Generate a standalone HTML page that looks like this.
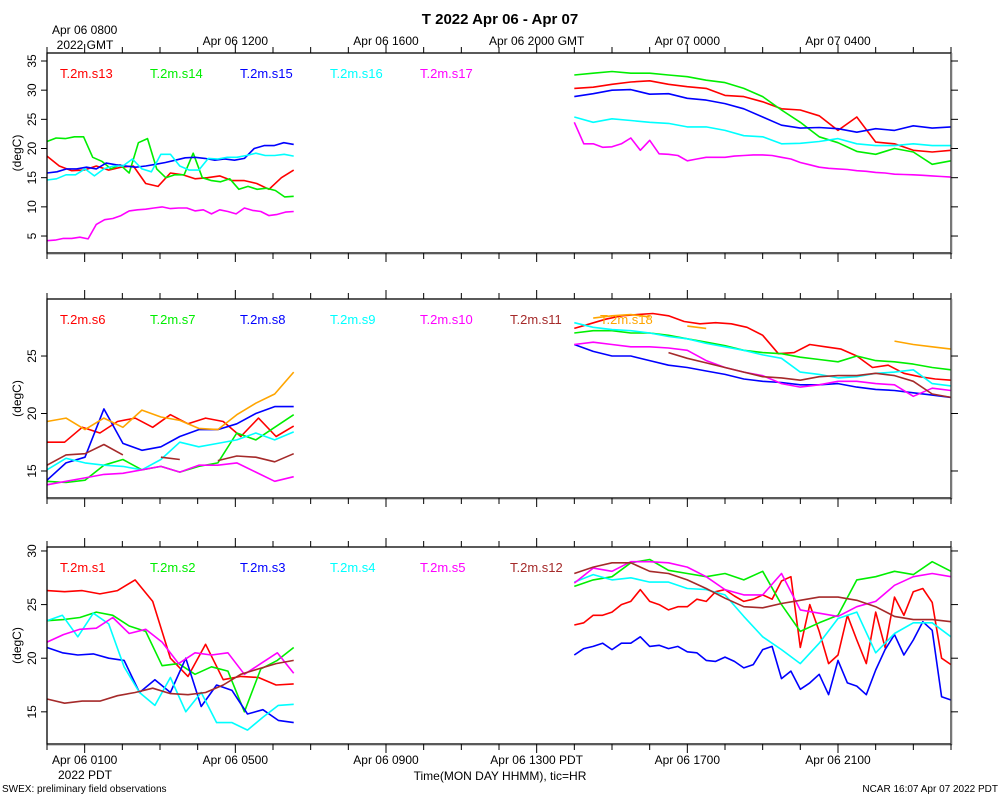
<!DOCTYPE html>
<html><head><meta charset="utf-8"><style>
body{margin:0;background:#fff;}
svg{display:block;font-family:"Liberation Sans",sans-serif;}
</style></head><body>
<svg id="chart" width="1000" height="800" viewBox="0 0 1000 800">
<text x="500" y="24" text-anchor="middle" font-size="15" font-weight="bold">T 2022 Apr 06 - Apr 07</text>
<g id="layer"></g>
<text x="500" y="780" text-anchor="middle" font-size="12">Time(MON DAY HHMM), tic=HR</text>
<text x="2" y="792" font-size="10">SWEX: preliminary field observations</text>
<text x="998" y="792" text-anchor="end" font-size="10">NCAR 16:07 Apr 07 2022 PDT</text>
</svg>
<script>
// time axis (hours since Apr 06 0700 GMT)
const topTickLabels = ["Apr 06 0800","Apr 06 1200","Apr 06 1600","Apr 06 2000 GMT","Apr 07 0000","Apr 07 0400"];
const bottomTickLabels = ["Apr 06 0100","Apr 06 0500","Apr 06 0900","Apr 06 1300 PDT","Apr 06 1700","Apr 06 2100"];
const labelHours = [1,5,9,13,17,21];
const seg1Range = [0,6.55];
const seg2Range = [14,24];

// panel 1
const p1Names = ["T.2m.s13","T.2m.s14","T.2m.s15","T.2m.s16","T.2m.s17"];
const p1Seg1 = [
 [18.7,17,16.2,16.3,17,16.3,16.8,17,14,13.5,15.8,15.5,14.8,15,15.3,14.5,14.5,14,13,15,16.3],
 [21.2,21.8,21.7,22,22,18.5,17.8,16.5,17.2,15.8,21,21.7,16.5,15,15.5,15.5,19.2,15,14.5,14.3,14.8,13,13.5,13,13.2,12.8,11.7,11.8],
 [15.8,16,16.5,16.5,16.8,16.5,17.5,17.2,17,16.8,17,17.3,17.6,18,18.4,18.5,18.3,18,18.2,18,18.3,20,20.5,20.5,21,20.7],
 [14.6,14.8,15.5,15.5,16.5,15.3,16.5,17,17,18.2,16.5,16,19,19,17,16.3,16.3,18.3,18.2,18.5,18.5,18.8,19.2,18.8,18.8,19,18.7],
 [4.2,4.3,4.6,4.6,4.8,4.5,7,7.8,8,8.5,9.3,9.5,9.6,9.8,10,9.7,9.8,9.8,9.3,9.5,8.8,9.5,9.2,8.8,9.8,9.4,9.2,8.5,8.7,9.1,9.2]
];
const p1Seg2 = [
 [30.3,30.5,31,31.4,31.6,31,30.6,30.3,29.1,28.9,28,26.8,26.6,25.6,23.1,25.4,21.1,20.8,19.7,19.4,19.7],
 [32.6,32.9,33.2,32.9,32.9,32.6,32.3,31.7,31.3,30.3,28.9,26.6,24.5,22,21,19.5,19,20,19.4,17.3,17.9],
 [28.9,29.4,30,30.1,29.3,29.4,28.6,28.3,27.7,26.8,25.4,24,23.5,23.6,23.4,22.8,23.4,23.1,23.9,23.5,23.7],
 [25.4,24.5,25.1,24.8,24.5,24.3,23.7,23.7,23.1,22.2,22,20.8,20.9,21.2,21.7,20.8,20.5,20.5,20.8,20.5,20.5],
 [24.5,20.8,20.8,20.2,20.3,20.8,21.8,19.7,21.4,19.1,19,18.8,17.9,18.2,18.5,18.5,18.5,18.7,18.8,18.9,18.9,18.8,18.5,18.2,17.6,17.2,16.8,16.6,16.5,16.4,16.2,16.1,15.9,15.8,15.6,15.55,15.5,15.4,15.3,15.2,15.1]
];
// panel 2
const p2Names = ["T.2m.s6","T.2m.s7","T.2m.s8","T.2m.s9","T.2m.s10","T.2m.s11","T.2m.s18"];
const p2Seg1 = [
 [17.5,17.5,18.8,18.3,19.3,19.6,18.8,19.9,19.1,19.6,19.3,18,19.6,18,18.9],
 [14.1,14,14.2,15.5,16,15.1,15.4,14.9,15.4,15.7,18.3,17.7,18.8,19.9],
 [14.2,15.7,16.2,20.4,17.4,16.8,17.1,18,18.6,18.6,19.1,20,20.6,20.6],
 [15.1,16.1,15.7,15.5,15.4,15.1,16,17.5,17.1,17.4,17.7,18.3,17.7,18.4],
 [13.8,14.1,14.4,14.7,14.8,15.1,15.4,14.9,15.5,15.5,15.7,14.9,14.1,14.5],
 [15.5,16.4,16.5,17.3,16.4,null,16.2,16.0,null,15.9,16.3,16.2,15.8,16.5],
 [19.3,19.6,18.6,19.6,18.8,20.3,19.7,19.4,18.7,18.6,19.9,20.9,21.7,23.6]
];
const p2Seg2 = [
 [27.4,27.8,28.2,28.5,28.6,28.7,28.5,28,27.8,27.9,27.8,27.5,26.8,25.2,25.3,26,25.8,25.6,25,24,24.2,23.5,23.2,23,22.9],
 [27,27.2,27.2,27,27,26.8,26.5,26.2,25.9,25.5,25.3,25.2,24.9,24.7,24.5,25,24.6,24.5,24.3,24,23.8],
 [26,25.4,25,25,24.6,24.2,24,23.7,23.4,23,22.8,22.7,22.5,22.5,22.6,22.3,22.1,22,21.8,21.6,21.4],
 [27.9,27.5,27.3,27.2,27,26.7,26.5,26.1,25.8,25.5,25.1,24.8,23.6,23.4,23.1,23.2,23.5,23.6,23.8,22.6,22.4],
 [26,26.2,26,25.8,25.8,25.7,25.5,24.6,24,23.6,23.3,22.6,22.3,22.5,22.8,22.8,22.6,22.5,21.5,22.2,22],
 [null,null,null,null,null,25.3,24.8,24.4,24,23.6,23.2,23.1,22.9,23.2,23.3,23.3,23.5,23.3,22.8,21.7,21.4],
 [null,28.3,28.5,28.6,28.4,null,27.6,27.4,null,null,null,null,null,null,null,null,null,26.3,26,25.8,25.6]
];
// panel 3
const p3Names = ["T.2m.s1","T.2m.s2","T.2m.s3","T.2m.s4","T.2m.s5","T.2m.s12"];
const p3Seg1 = [
 [26.3,26.2,26.3,26,26.3,27.3,25.3,20,18.3,21.3,18,18.3,18.2,17.5,17.6],
 [23.5,23.6,23.8,24.3,24,23,22.5,19.3,19.5,18.5,19.2,18.8,15,19,19.8,21],
 [21,20.5,20.3,20.4,20,19.8,16.8,18,16.8,20,15.5,17.5,17,14.8,15.2,14.2,14],
 [23.5,24,22,24.2,23.2,19.2,16.8,15.6,18.2,15,16.8,14,14,13.3,14.5,15.6,15.7],
 [21.5,22.2,22.7,22.8,23.8,22.3,22.7,21.5,19.5,20.5,20.3,20.5,18.5,19.5,20.5,18.6],
 [16.2,15.8,16,16,16.5,16.8,17.2,16.7,16.6,16.8,17.5,18.5,19,19.5,19.8]
];
const p3Seg2 = [
 [23.1,23.3,24,24,24.3,25,25.3,26.4,25.3,25,24.5,24.8,24.8,25.5,25.3,26.2,26.4,25.8,25.3,25.5,25.9,25.5,27.2,27.6,21,25,22.5,19.5,20.3,24,21.7,19.5,24.3,21,25.7,24,26.2,26.5,25.2,20,19.4],
 [26.7,27.3,27.6,28.9,29.2,28.2,27.9,27.6,27.9,27.3,28.1,25,22.5,23.3,24,27.3,27.6,28.1,27.8,29,28.1],
 [20.3,20.9,21.1,21.4,20.8,21.4,21.4,22,21.1,21.2,20.9,21.1,20.6,20.5,19.8,19.7,20.1,19.7,19.1,19.4,20.8,21.1,18.1,18.8,17.1,17.7,18.5,16.6,19.8,17.7,17.4,16.6,18.9,20.8,22.2,20.3,21.7,23.4,22.6,16.4,16.1],
 [27.1,27.8,27.3,27.5,27.1,27.1,26.5,26.4,25.9,23.9,22,20.8,19.5,21.4,23.7,24.3,20.5,22.3,23.3,23.3,22],
 [27,28.4,28.1,29,29,28.9,28.5,27.6,26.4,25.9,25.9,27.9,24.5,24.2,23.9,24.8,25.3,26.8,27.6,27.9,27.6],
 [27.9,28.5,28.9,28.9,28.1,27.9,27.3,26.5,25.6,24.8,24.7,25.1,25.4,25.7,25.7,25.4,24.8,23.9,23.6,23.6,23.4]
];

const COLORS1=["#ff0000","#00ee00","#0000ff","#00ffff","#ff00ff"];
const COLORS2=["#ff0000","#00ee00","#0000ff","#00ffff","#ff00ff","#a52a2a","#ffa500"];
const COLORS3=["#ff0000","#00ee00","#0000ff","#00ffff","#ff00ff","#a52a2a"];
const NS="http://www.w3.org/2000/svg";
const layer=document.getElementById('layer');
const X0=47,X1=951;
function xs(h){return X0+(h/24)*(X1-X0);}
function mk(tag,attrs,parent){const e=document.createElementNS(NS,tag);for(const k in attrs)e.setAttribute(k,attrs[k]);(parent||layer).appendChild(e);return e;}

const panels=[
 {id:"panel-1",top:53,bot:253,vTop:36.37,vBot:2.09,ticks:[5,10,15,20,25,30,35],names:p1Names,s1:p1Seg1,s2:p1Seg2,colors:COLORS1},
 {id:"panel-2",top:299,bot:498,vTop:29.96,vBot:12.65,ticks:[15,20,25],names:p2Names,s1:p2Seg1,s2:p2Seg2,colors:COLORS2},
 {id:"panel-3",top:547,bot:744,vTop:30.37,vBot:12.0,ticks:[15,20,25,30],names:p3Names,s1:p3Seg1,s2:p3Seg2,colors:COLORS3}
];

panels.forEach(p=>{
  const g=mk('g',{});
  
  
  const ys=v=>p.top+(p.vTop-v)/(p.vTop-p.vBot)*(p.bot-p.top);
  p.names.forEach((nm,i)=>{
    [[p.s1[i],seg1Range],[p.s2[i],seg2Range]].forEach(([arr,rng],si)=>{
      if(!arr)return;
      const n=arr.length;let d="",pen=false;
      arr.forEach((v,k)=>{
        if(v===null){pen=false;return;}
        const h=rng[0]+(rng[1]-rng[0])*k/(n-1);
        d+=(pen?"L":"M")+xs(h).toFixed(1)+","+ys(v).toFixed(1);pen=true;
      });
      const path=mk('path',{d:d,fill:"none",stroke:p.colors[i],"stroke-width":"1.6","stroke-linejoin":"round"},g);
      
      
    });
    const lt=mk('text',{x:60+i*90,y:p.top+25,fill:p.colors[i],"font-size":"13"},g);
    lt.textContent=nm;
    
    
  });
  const box=mk('rect',{x:X0,y:p.top,width:X1-X0,height:p.bot-p.top,fill:"none",stroke:"#000","stroke-width":"1.3"},g);
  
  
  mk('line',{x1:X1+0.5,y1:p.top,x2:X1+0.5,y2:p.bot+1,stroke:"#777","stroke-width":"1.5"},g);
  mk('line',{x1:X0,y1:p.bot+0.8,x2:X1+1,y2:p.bot+0.8,stroke:"#777","stroke-width":"1.2"},g);
  p.ticks.forEach(v=>{
    const y=ys(v);
    mk('line',{x1:X0-6,y1:y,x2:X0,y2:y,stroke:"#000"},g);
    mk('line',{x1:X1,y1:y,x2:X1+7,y2:y,stroke:"#000"},g);
    const t=mk('text',{x:0,y:0,transform:`translate(36,${y}) rotate(-90)`,"text-anchor":"middle","font-size":"12"},g);
    t.textContent=v;
    
    
  });
  const yt=mk('text',{x:0,y:0,transform:`translate(21,${(p.top+p.bot)/2}) rotate(-90)`,"text-anchor":"middle","font-size":"12"},g);
  yt.textContent="(degC)";
  
  
  for(let h=0;h<=24;h++){
    const major=labelHours.includes(h);const x=xs(h);const L=major?9:6;
    mk('line',{x1:x,y1:p.top-L,x2:x,y2:p.top,stroke:"#000"},g);
    mk('line',{x1:x,y1:p.bot,x2:x,y2:p.bot+L,stroke:"#000"},g);
  }
});
labelHours.forEach((h,i)=>{
  const t=mk('text',{x:xs(h),y:i===0?34:45,"text-anchor":"middle","font-size":"12"});
  t.textContent=topTickLabels[i];
  
  
  const b=mk('text',{x:xs(h),y:764,"text-anchor":"middle","font-size":"12"});
  b.textContent=bottomTickLabels[i];
  
  
});
const g1=mk('text',{x:85,y:49,"text-anchor":"middle","font-size":"12"});
g1.textContent="2022 GMT";


const g2=mk('text',{x:85,y:779,"text-anchor":"middle","font-size":"12"});
g2.textContent="2022 PDT";


</script>
</body></html>
